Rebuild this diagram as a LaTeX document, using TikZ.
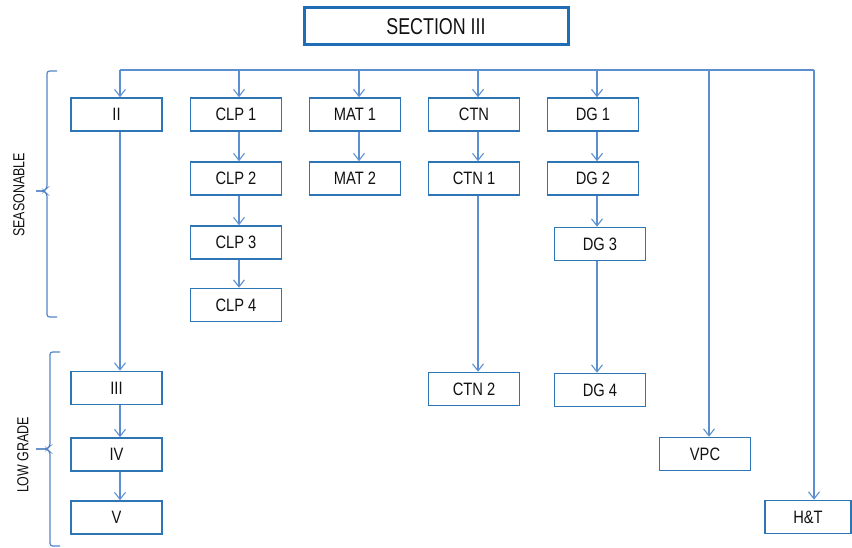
\documentclass[tikz,border=0pt]{standalone}
\usepackage{fontspec}
\setmainfont{Liberation Sans}[FakeStretch=0.82]
\newfontfamily\titlefont{Liberation Sans}[FakeStretch=0.78]
\usetikzlibrary{arrows.meta}
\definecolor{boxblue}{HTML}{2E75B6}
\definecolor{topblue}{HTML}{1F6DB5}
\definecolor{lineblue}{HTML}{5B8FD0}
\definecolor{brblue}{HTML}{5584C4}
\definecolor{txt}{HTML}{111111}
\tikzset{
  box/.style={draw=boxblue, line width=1.6bp, fill=white, minimum width=91bp, minimum height=33bp, inner sep=0pt, font=\fontsize{18}{20}\selectfont, text=txt},
  topbox/.style={draw=topblue, line width=3bp, minimum width=264bp, minimum height=37bp, inner sep=0pt, font=\titlefont\fontsize{23}{26}\selectfont, text=txt},
  conn/.style={draw=lineblue, line width=1.2bp},
  arr/.style={conn, -{Straight Barb[length=7bp,width=11bp,line width=1.1bp]}},
  brc/.style={draw=brblue, line width=1.2bp, rounded corners=2.5bp},
  side/.style={font=\titlefont\fontsize{16}{18}\selectfont, text=txt, rotate=90, inner sep=0pt}
}
\begin{document}
\begin{tikzpicture}[x=1bp,y=-1bp]
\useasboundingbox (0,0) rectangle (852,548);
% title
\node[topbox] (sec) at (436,26.5) {SECTION III};
% boxes
\node[box] (II)   at (116.5,114.5) {II};
\node[box] (III)  at (116.5,388) {III};
\node[box] (IV)   at (116.5,454.5) {IV};
\node[box] (V)    at (116.5,517.5) {V};
\node[box] (CLP1) at (236,114.5) {CLP 1};
\node[box] (CLP2) at (236,178.5) {CLP 2};
\node[box] (CLP3) at (236,242.5) {CLP 3};
\node[box] (CLP4) at (236,305) {CLP 4};
\node[box] (MAT1) at (355,114.5) {MAT 1};
\node[box] (MAT2) at (355,178.5) {MAT 2};
\node[box] (CTN)  at (474,114.5) {CTN};
\node[box] (CTN1) at (474,178.5) {CTN 1};
\node[box] (CTN2) at (474,389) {CTN 2};
\node[box] (DG1)  at (593,114.5) {DG 1};
\node[box] (DG2)  at (593,178.5) {DG 2};
\node[box] (DG3)  at (600,244) {DG 3};
\node[box] (DG4)  at (600,390) {DG 4};
\node[box] (VPC)  at (705,454) {VPC};
\node[box, minimum width=86bp] (HT) at (808,517) {H\&T};
% branch points on the bar
\coordinate (b1) at (120,70);
\coordinate (b2) at (239,70);
\coordinate (b3) at (359,70);
\coordinate (b4) at (478,70);
\coordinate (b5) at (597,70);
\coordinate (b6) at (709,70);
\coordinate (b7) at (814,70);
\draw[conn] (b1) -- (b7);
\draw[arr] (b1) -- (b1 |- II.north);
\draw[arr] (b2) -- (b2 |- CLP1.north);
\draw[arr] (b3) -- (b3 |- MAT1.north);
\draw[arr] (b4) -- (b4 |- CTN.north);
\draw[arr] (b5) -- (b5 |- DG1.north);
\draw[arr] (b6) -- (b6 |- VPC.north);
\draw[arr] (b7) -- (b7 |- HT.north);
% chains
\draw[arr] (b1 |- II.south) -- (b1 |- III.north);
\draw[arr] (b1 |- III.south) -- (b1 |- IV.north);
\draw[arr] (b1 |- IV.south) -- (b1 |- V.north);
\draw[arr] (b2 |- CLP1.south) -- (b2 |- CLP2.north);
\draw[arr] (b2 |- CLP2.south) -- (b2 |- CLP3.north);
\draw[arr] (b2 |- CLP3.south) -- (b2 |- CLP4.north);
\draw[arr] (b3 |- MAT1.south) -- (b3 |- MAT2.north);
\draw[arr] (b4 |- CTN.south) -- (b4 |- CTN1.north);
\draw[arr] (b4 |- CTN1.south) -- (b4 |- CTN2.north);
\draw[arr] (b5 |- DG1.south) -- (b5 |- DG2.north);
\draw[arr] (b5 |- DG2.south) -- (b5 |- DG3.north);
\draw[arr] (b5 |- DG3.south) -- (b5 |- DG4.north);
% braces
\draw[brc] (57,71) -- (47,71) -- (47,188) -- (44,191) -- (36,191);
\draw[brc] (36,191) -- (44,191) -- (47,194) -- (47,317) -- (57,317);
\draw[brc] (60,352) -- (50,352) -- (50,446) -- (47,449) -- (36,449);
\draw[brc] (36,449) -- (47,449) -- (50,452) -- (50,546) -- (60,546);
\node[side] (sea) at (19,195) {SEASONABLE};
\node[side] (low) at (23,455) {LOW GRADE};
\end{tikzpicture}
\end{document}
